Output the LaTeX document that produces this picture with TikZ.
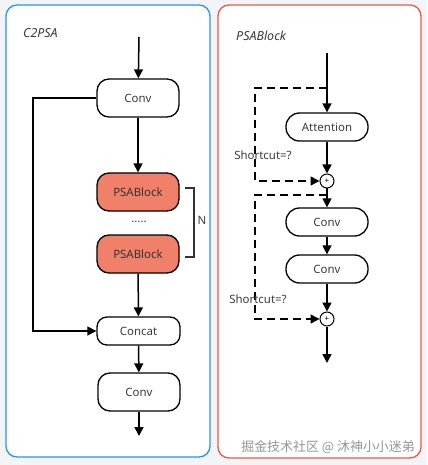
\documentclass[tikz,border=0pt]{standalone}
\usepackage{fontspec}
\setmainfont{Noto Sans}
\newfontfamily\cjkfont{Noto Sans CJK SC}
\usetikzlibrary{arrows.meta,calc}
\definecolor{bggray}{RGB}{242,244,247}
\definecolor{panelblue}{RGB}{40,150,240}
\definecolor{panelred}{RGB}{232,90,75}
\definecolor{salmon}{RGB}{240,128,106}
\definecolor{txtgray}{RGB}{60,60,60}
\definecolor{wmgray}{RGB}{150,150,150}
\tikzset{
  blockbox/.style={draw=black, line width=1.3bp, rounded corners=12bp, minimum width=82bp, minimum height=38bp, inner sep=0pt, text=txtgray, font=\fontsize{11.5}{13}\selectfont},
  pillbox/.style={draw=black, line width=1.3bp, rounded corners=13.5bp, minimum width=82bp, minimum height=28bp, inner sep=0pt, text=txtgray, font=\fontsize{11.5}{13}\selectfont},
  psabox/.style={blockbox, fill=salmon, text=black!80},
  addnode/.style={draw=black, line width=1bp, circle, minimum size=14bp, inner sep=0pt, font=\fontsize{8}{8}\selectfont, fill=white},
  conn/.style={line width=1.5bp, -{Triangle[width=9bp,length=9bp]}},
  plainline/.style={line width=1.5bp},
  dashconn/.style={line width=1.5bp, dash pattern=on 8bp off 5bp, -{Triangle[width=9bp,length=9bp]}},
  dashline/.style={line width=1.5bp, dash pattern=on 8bp off 5bp},
  lbl/.style={text=txtgray, font=\fontsize{11.5}{13}\selectfont, inner sep=0pt},
  ttl/.style={text=txtgray, font=\fontsize{12.5}{14}\selectfont\itshape, inner sep=0pt, anchor=west},
}
\begin{document}
\begin{tikzpicture}[x=1bp,y=-1bp]
\useasboundingbox (0,0) rectangle (427,465);
\fill[bggray] (0,0) rectangle (427,465);
% panels
\draw[panelblue, line width=1.3bp, fill=white, rounded corners=11bp] (6,5) rectangle (210,457);
\draw[panelred, line width=1.3bp, fill=white, rounded corners=11bp] (218,5) rectangle (421,458);
% titles
\node[ttl] (t1) at (23,33) {C2PSA};
\node[ttl] (t2) at (236,36) {PSABlock};
% left panel
\coordinate (lin) at (139,37);
\node[blockbox] (conv1) at (138,98) {Conv};
\node[psabox] (psa1) at (138,192) {PSABlock};
\node[lbl] (dots) at (139,222) {.....};
\node[psabox] (psa2) at (138,254) {PSABlock};
\node[pillbox, rounded corners=10bp, minimum width=83bp] (concat) at (138.5,331) {Concat};
\node[blockbox] (conv2) at (139,392) {Conv};
\coordinate (lout) at (139,436);
\draw[conn] (lin) -- (conv1);
\draw[conn] (conv1) -- (psa1);
\draw[conn] (psa2) -- (concat);
\draw[conn] (concat) -- (conv2);
\draw[conn] (conv2) -- (lout);
\draw[conn] (conv1.west) -- (33,98) -- (33,331) -- (concat.west);
% bracket
\coordinate (b1) at (185,188);
\coordinate (b2) at (185,257);
\draw[line width=1.3bp, black!80] (b1) -- ++(9,0) -- ++(0,69) -- (b2);
\node[lbl] (nlab) at (202,220) {N};
% right panel
\coordinate (rin) at (327,53);
\node[pillbox] (att) at (327,127) {Attention};
\node[addnode] (add1) at (327,181) {+};
\node[pillbox] (rconv1) at (327,222) {Conv};
\node[pillbox] (rconv2) at (327,269) {Conv};
\node[addnode] (add2) at (327,319) {+};
\coordinate (rout) at (327,363);
\coordinate (s1) at (327,88);
\coordinate (s2) at (327,195);
\draw[conn] (rin) -- (att);
\draw[conn] (att) -- (add1);
\draw[conn] (add1) -- (rconv1);
\draw[conn] (rconv1) -- (rconv2);
\draw[conn] (rconv2) -- (add2);
\draw[conn] (add2) -- (rout);
\draw[dashconn] (s1) -- (255,88) -- (255,181) -- (add1.west);
\draw[dashconn] (s2) -- (255,195) -- (255,319) -- (add2.west);
\node[lbl] (sc1) at (263,155) {Shortcut=?};
\node[lbl] (sc2) at (258,299) {Shortcut=?};
% watermark
\node[text=wmgray, font=\cjkfont\fontsize{13}{14}\selectfont, inner sep=0pt, anchor=east] (wm) at (415,447) {掘金技术社区 @ 沐神小小迷弟};
\end{tikzpicture}
\end{document}
